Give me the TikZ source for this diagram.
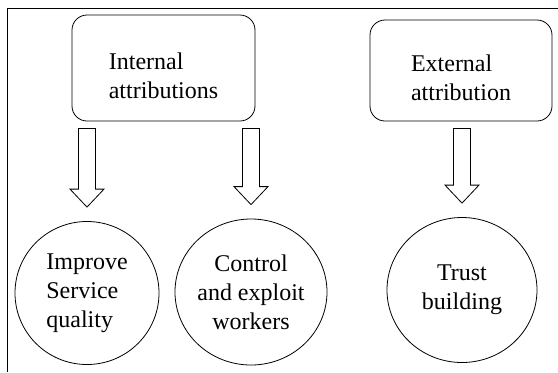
\documentclass[tikz,border=0pt]{standalone}
\usepackage{fontspec}
\setmainfont{Liberation Serif}
\usetikzlibrary{calc,shapes.geometric}

\tikzset{
    attrbox/.style={draw, rounded corners=7.5pt, align=left,
        font=\fontsize{12}{14.5}\selectfont},
    effect/.style={draw, ellipse, inner sep=0pt,
        font=\fontsize{12}{14.5}\selectfont},
}

% hollow block arrow from #1 down to #2
\newcommand{\blockarrow}[2]{
    \draw let \p1=(#1), \p2=(#2) in
        ({\x1-4.25pt},\y1) -- ({\x1+4.25pt},\y1) -- ({\x1+4.25pt},{\y2+9pt})
        -- ({\x1+8.5pt},{\y2+9pt}) -- (\x1,\y2) -- ({\x1-8.5pt},{\y2+9pt})
        -- ({\x1-4.25pt},{\y2+9pt}) -- cycle;
}
\newcommand{\lowline}{\rule{0pt}{16pt}}

\begin{document}
\begin{tikzpicture}[x=0.5pt,y=-0.5pt]
    \useasboundingbox (0,0) rectangle (558,372);
    \draw (558,8) -- (7.5,8) -- (7.5,372);

    \node[attrbox, minimum width=91.5pt, minimum height=53pt] (int) at (163.5,68)
        {\lowline Internal\\attributions};
    \node[attrbox, minimum width=91pt, minimum height=50.5pt] (ext) at (461,70.5)
        {\lowline External\\attribution};

    \node[effect, align=left, minimum width=72pt, minimum height=71.5pt] (qual) at (87,293)
        {Improve\\Service\\quality};
    \node[effect, align=center, minimum width=76pt, minimum height=73pt] (ctrl) at (251,292)
        {Control\\and exploit\\workers};
    \node[effect, align=center, minimum width=75pt, minimum height=72.5pt] (trust) at (462,290)
        {Trust\\building};

    \foreach \c/\b in {qual/int, ctrl/int, trust/ext}{
        \blockarrow{$(\c.north |- \b.south)+(0,7)$}{$(\c.north)+(0,-14)$}
    }
\end{tikzpicture}
\end{document}
